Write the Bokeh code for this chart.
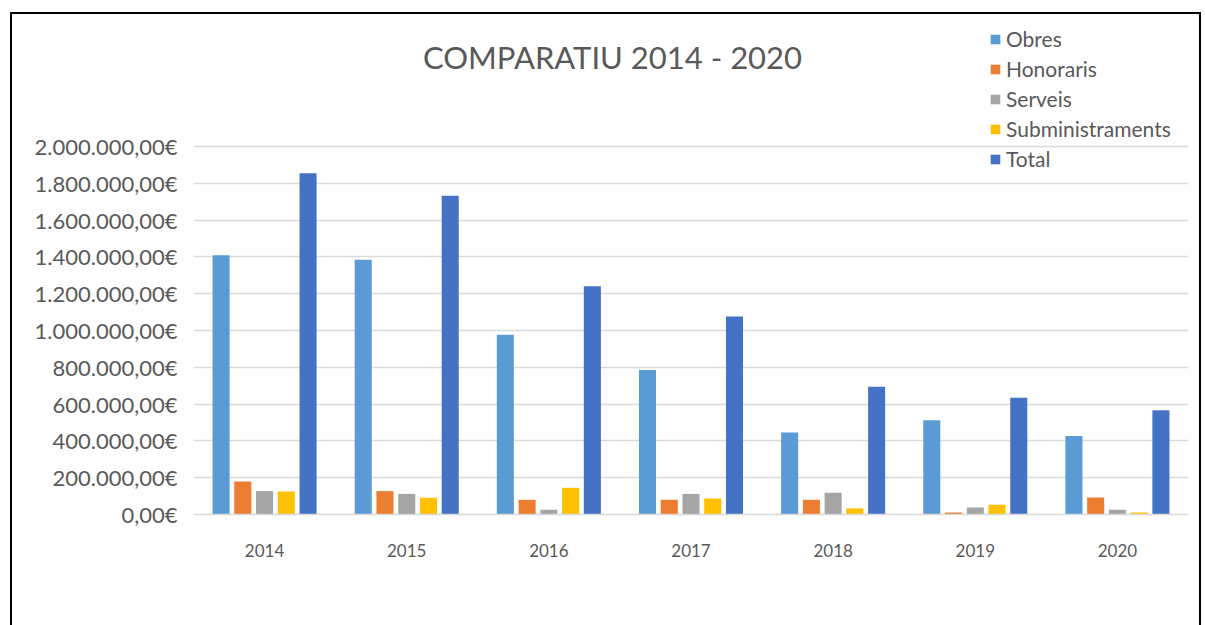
from bokeh.plotting import figure
from bokeh.models import (ColumnDataSource, FactorRange, Range1d, FixedTicker,
                          CustomJSTickFormatter, Legend, LegendItem, Label)
from bokeh.transform import dodge
from bokeh.embed import file_html
from bokeh.resources import INLINE

years = ["2014", "2015", "2016", "2017", "2018", "2019", "2020"]
obres = [1409000, 1384000, 977000, 785000, 445000, 512000, 427000]
honoraris = [180000, 127000, 80000, 80000, 80000, 11000, 92000]
serveis = [127000, 112000, 26000, 112000, 118000, 38000, 26000]
subministraments = [125000, 91000, 145000, 87000, 33000, 53000, 11000]
total = [1854000, 1733000, 1240000, 1076000, 694000, 634000, 567000]

series_names = ["Obres", "Honoraris", "Serveis", "Subministraments", "Total"]
series_keys = ["obres", "honoraris", "serveis", "subministraments", "total"]
colors = ["#5B9BD5", "#ED7D31", "#A5A5A5", "#FFC000", "#4472C4"]
y_ticks = [0, 200000, 400000, 600000, 800000, 1000000, 1200000,
           1400000, 1600000, 1800000, 2000000]
title_text = "COMPARATIU 2014 - 2020"

source = ColumnDataSource(dict(years=years, obres=obres, honoraris=honoraris,
                               serveis=serveis, subministraments=subministraments,
                               total=total))

FONT = "Lato"
TXT = "#595959"

# the plot frame reaches the top so that title and legend are drawn inside it;
# 2.000.000 sits 368 px above the baseline, the frame is 500 px tall
Y_TOP = 2000000 * 500 / 368

p = figure(x_range=FactorRange(*years), y_range=Range1d(0, Y_TOP),
           width=1191, height=613, output_backend="svg", toolbar_location=None,
           min_border_left=181, min_border_right=15, min_border_top=0,
           min_border_bottom=113, margin=(12, 0, 0, 10))
p.title.visible = False
p.styles = {"border-left": "2px solid black", "border-top": "2px solid black",
            "border-right": "2px solid black", "box-sizing": "border-box"}

offsets = [-0.306, -0.153, 0.0, 0.153, 0.306]
renderers = []
for key, col, off in zip(series_keys, colors, offsets):
    r = p.vbar(x=dodge("years", off, range=p.x_range), top=key, width=0.12,
               source=source, fill_color=col, line_color=None)
    renderers.append(r)

p.outline_line_color = None
p.xgrid.grid_line_color = None
p.ygrid.grid_line_color = "#D9D9D9"
p.ygrid.grid_line_width = 1.5

p.yaxis.ticker = FixedTicker(ticks=y_ticks)
p.yaxis.formatter = CustomJSTickFormatter(code=r"""
const parts = tick.toFixed(2).split('.');
const ip = parts[0].replace(/\B(?=(\d{3})+(?!\d))/g, '.');
return ip + ',' + parts[1] + '€';
""")
p.yaxis.axis_line_color = None
p.yaxis.major_tick_line_color = None
p.yaxis.minor_tick_line_color = None
p.yaxis.major_label_standoff = 10
p.yaxis.major_label_text_font = FONT
p.yaxis.major_label_text_font_size = "22px"
p.yaxis.major_label_text_color = TXT

p.xaxis.axis_line_color = "#D9D9D9"
p.xaxis.axis_line_width = 1.5
p.xaxis.major_tick_line_color = None
p.xaxis.minor_tick_line_color = None
p.xaxis.major_label_standoff = 23
p.xaxis.major_label_text_font = FONT
p.xaxis.major_label_text_font_size = "17px"
p.xaxis.major_label_text_color = TXT

items = [LegendItem(label=n, renderers=[r]) for n, r in zip(series_names, renderers)]
legend = Legend(items=items, location=(796, 343), orientation="vertical",
                padding=0, margin=0, spacing=5, glyph_width=12, glyph_height=12,
                label_height=20, label_standoff=5,
                label_text_font=FONT, label_text_font_size="21px",
                label_text_color=TXT, border_line_color=None,
                background_fill_alpha=0)
p.add_layout(legend, "center")

title = Label(x=419, y=458, x_units="screen", y_units="screen", text=title_text,
              text_align="center", text_baseline="middle", text_font=FONT,
              text_font_size="31px", text_color=TXT)
p.add_layout(title, "center")

open("out.html", "w").write(file_html(p, INLINE))
